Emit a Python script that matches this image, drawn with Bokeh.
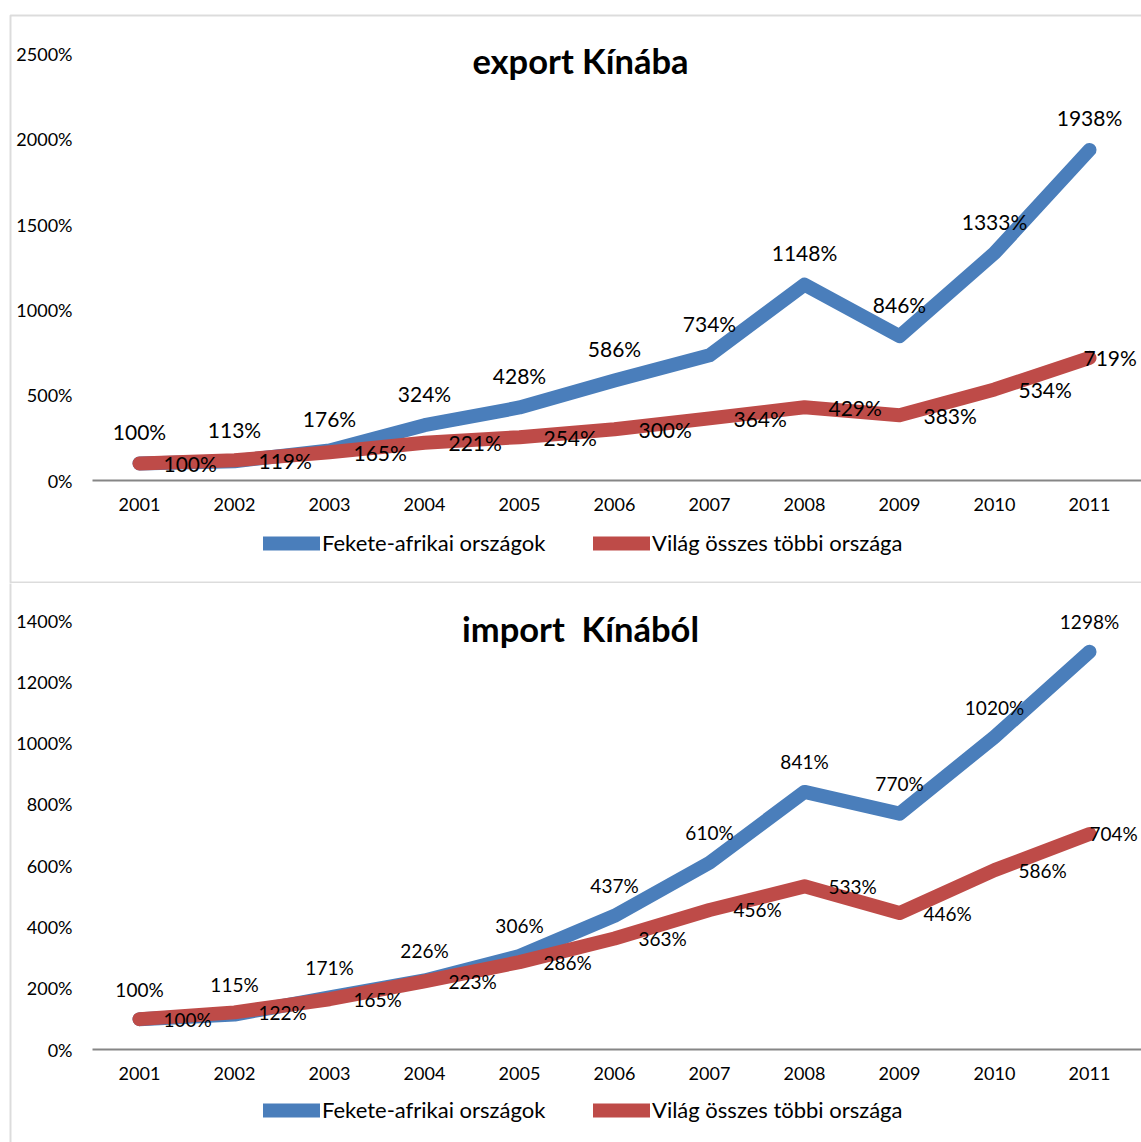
from bokeh.plotting import figure
from bokeh.models import (ColumnDataSource, FixedTicker, Range1d, Legend, LegendItem,
                          BoxAnnotation, Label)
from bokeh.layouts import column
from bokeh.embed import file_html
from bokeh.resources import INLINE
from bokeh.core.properties import value

# ---------------- data ----------------
years = [2001, 2002, 2003, 2004, 2005, 2006, 2007, 2008, 2009, 2010, 2011]
year_labels = [str(y) for y in years]
export_africa = [100, 113, 176, 324, 428, 586, 734, 1148, 846, 1333, 1938]
export_world = [100, 119, 165, 221, 254, 300, 364, 429, 383, 534, 719]
import_africa = [100, 115, 171, 226, 306, 437, 610, 841, 770, 1020, 1298]
import_world = [100, 122, 165, 223, 286, 363, 456, 533, 446, 586, 704]
export_ticks = [0, 500, 1000, 1500, 2000, 2500]
import_ticks = [0, 200, 400, 600, 800, 1000, 1200, 1400]
series_names = ["Fekete-afrikai országok", "Világ összes többi országa"]
chart_titles = ["export Kínába", "import\u00a0 Kínából"]

# ---------------- style / geometry (pixels) ----------------
BLUE = "#4a7ebb"
RED = "#be4b48"
AXIS_GRAY = "#868686"
BORDER = "#8c8c8c"
FONT = "Lato"
W = 1141
PX_PER_YEAR = 95
FIRST_X = 139      # pixel x of first category
AXIS_LEFT = 92     # pixel x where plot area starts
LINE_W = 14


def make_chart(title, africa, world, ticks, height, zero_y, ppp, title_cy,
               legend_cy, box_top, box_bottom, label_size, blue_off, last_off):
    x0 = years[0] - FIRST_X / PX_PER_YEAR
    x1 = x0 + W / PX_PER_YEAR

    def xd(px):
        return x0 + px / PX_PER_YEAR

    def yd(py):
        return (zero_y - py) / ppp

    p = figure(width=W, height=height, x_range=Range1d(x0, x1),
               y_range=Range1d(yd(height), yd(0)),
               output_backend="svg", toolbar_location=None, title=None,
               min_border_left=0, min_border_right=0, min_border_top=0, min_border_bottom=0)
    p.outline_line_color = None
    p.grid.visible = False
    p.background_fill_color = "white"
    p.border_fill_color = "white"

    xa = p.xaxis[0]
    xa.fixed_location = 0
    xa.bounds = (xd(AXIS_LEFT), x1)
    xa.ticker = FixedTicker(ticks=years)
    xa.major_label_overrides = {y: s for y, s in zip(years, year_labels)}
    xa.major_tick_in = 0
    xa.major_tick_out = 0
    xa.minor_tick_line_color = None
    xa.axis_line_color = AXIS_GRAY
    xa.axis_line_width = 2
    xa.major_label_text_font = FONT
    xa.major_label_text_font_size = "18px"
    xa.major_label_text_color = "black"
    xa.major_label_standoff = 17

    ya = p.yaxis[0]
    ya.fixed_location = xd(AXIS_LEFT)
    ya.ticker = FixedTicker(ticks=ticks)
    ya.major_label_overrides = {t: f"{t}%" for t in ticks}
    ya.axis_line_color = None
    ya.major_tick_in = 0
    ya.major_tick_out = 0
    ya.minor_tick_line_color = None
    ya.major_label_text_font = FONT
    ya.major_label_text_font_size = "18px"
    ya.major_label_text_color = "black"
    ya.major_label_standoff = 20

    red_off = [24] * (len(years) - 1) + [last_off]
    src = ColumnDataSource(dict(
        x=years, africa=africa, world=world,
        africa_lbl=[f"{v}%" for v in africa],
        world_lbl=[f"{v}%" for v in world],
        red_off=red_off,
    ))

    r1 = p.line(x="x", y="africa", source=src, line_color=BLUE, line_width=LINE_W,
                line_cap="round", line_join="round")
    r2 = p.line(x="x", y="world", source=src, line_color=RED, line_width=LINE_W,
                line_cap="round", line_join="round")

    p.text(x="x", y="africa", text="africa_lbl", source=src, text_align="center",
           text_baseline="middle", y_offset=-blue_off, text_font=value(FONT),
           text_font_size=label_size, text_color="black")
    p.text(x="x", y="world", text="world_lbl", source=src, text_align="left",
           text_baseline="middle", x_offset="red_off", text_font=value(FONT),
           text_font_size=label_size, text_color="black")

    p.add_layout(Label(x=xd(580), y=yd(title_cy), text=title, text_align="center",
                       text_baseline="middle", text_font=FONT, text_font_style="bold",
                       text_font_size="34.5px", text_color="black"))

    legend = Legend(items=[LegendItem(label=series_names[0], renderers=[r1]),
                           LegendItem(label=series_names[1], renderers=[r2])],
                    orientation="horizontal",
                    location=(263, height - (legend_cy + 10)),
                    glyph_width=57, glyph_height=20, label_height=20, label_width=271,
                    label_standoff=2, spacing=0, padding=0, margin=0,
                    label_text_font=FONT, label_text_font_size="22px",
                    label_text_color="black",
                    background_fill_alpha=0, border_line_color=None)
    p.add_layout(legend, "center")

    p.add_layout(BoxAnnotation(left=10, right=5000, top=box_top, bottom=box_bottom,
                               left_units="canvas", right_units="canvas",
                               top_units="canvas", bottom_units="canvas",
                               fill_alpha=0, line_color=BORDER, line_width=2,
                               level="overlay"))
    return p


p1 = make_chart(chart_titles[0], export_africa, export_world, export_ticks,
                height=583, zero_y=480, ppp=(480 - 53.5) / 2500,
                title_cy=60, legend_cy=546, box_top=15, box_bottom=582,
                label_size="21px", blue_off=32, last_off=-6)
p2 = make_chart(chart_titles[1], import_africa, import_world, import_ticks,
                height=559, zero_y=466.3, ppp=(1049.3 - 620) / 1400,
                title_cy=45, legend_cy=530, box_top=-10, box_bottom=2000,
                label_size="19px", blue_off=30, last_off=0)

layout = column(p1, p2, spacing=0)
open("out.html", "w").write(file_html(layout, INLINE))
